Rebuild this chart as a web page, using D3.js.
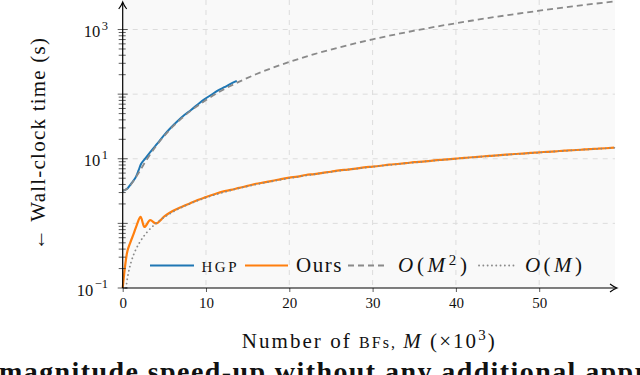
<!DOCTYPE html>
<html>
    <head>
        <title>Wall-clock time</title>
        <script src="https://d3js.org/d3.v7.min.js"></script>
    </head>
    <style>
        body { margin: 0; background: #fff; }
        svg { display: block; }
        text { font-family: "Liberation Serif", "DejaVu Serif", serif; fill: #111; }
    </style>
    <body>
        <div id="chart"></div>
        <script>

            // HGP timings (M in thousands, seconds)
            const hgpM = [0, 0.5, 1, 1.3, 1.6, 1.9, 2.2, 2.6, 3, 3.5, 4.2, 5, 5.8, 6.6, 7.4, 8.2, 9, 9.8, 10.6, 11.4, 12.2, 13, 13.7];
            const hgpT = [3.2, 3.4, 4.1, 4.6, 5.3, 6.6, 8.3, 9.7, 11.3, 13.6, 17.5, 23.5, 30.5, 38.5, 47.5, 57, 69, 83, 97, 113, 128, 145, 160];

            // our timings
            const oursM = [0, 0.25, 0.5, 0.9, 1.3, 1.7, 2.15, 2.6, 3.3, 4,
                5, 6, 7, 8, 9, 10, 11, 12, 13, 14, 15, 16, 17, 18, 19, 20, 21, 22, 23, 24, 25, 26, 27, 28, 29,
                30, 31, 32, 33, 34, 35, 36, 37, 38, 39, 40, 41, 42, 43, 44, 45, 46, 47, 48, 49, 50, 51, 52, 53, 54, 55, 56, 57, 58, 59];
            const oursT = [0.1, 0.2, 0.34, 0.5, 0.68, 0.95, 1.26, 0.88, 1.12, 1.0,
                1.28, 1.55, 1.78, 2.02, 2.3, 2.55, 2.82, 3.1, 3.3, 3.55, 3.8, 4.1, 4.3, 4.55, 4.85, 5.1, 5.3, 5.6, 5.8, 6.05, 6.3, 6.6, 6.8, 7.05, 7.35,
                7.55, 7.8, 8.1, 8.3, 8.55, 8.85, 9.05, 9.3, 9.6, 9.8, 10.05, 10.35, 10.55, 10.8, 11.1, 11.3, 11.55, 11.85, 12.05, 12.3, 12.6, 12.8, 13.05, 13.35, 13.55, 13.8, 14.1, 14.3, 14.55, 14.85];

            // O(M^2) reference curve
            const quadM = [0, 0.5, 1, 1.5, 2, 2.5, 3, 4, 5, 6, 7, 8, 10, 12, 14, 16, 18, 20, 23, 26, 30, 34, 38, 42, 46, 50, 54, 59.1];
            const quadT = [3.2, 3.4, 4.0, 5.0, 6.3, 8.1, 10.2, 15.7, 22.7, 31.3, 41.4, 53.1, 81, 116, 156, 203, 256, 315, 416, 530, 705, 905, 1130, 1380, 1655, 1955, 2280, 2730];

            // O(M) reference curve
            const linM = [0.4, 0.5, 0.6, 0.8, 1, 1.3, 1.6, 2, 2.5, 3, 4, 5, 6, 8, 10, 13, 16, 20, 25, 30, 40, 50, 59.1];
            const linT = [0.1, 0.125, 0.15, 0.2, 0.25, 0.325, 0.4, 0.5, 0.625, 0.75, 1.0, 1.25, 1.5, 2.0, 2.5, 3.25, 4.0, 5.0, 6.25, 7.5, 10, 12.5, 14.8];

            const xTicks = [0, 10, 20, 30, 40, 50];
            const yDecades = [-1, 0, 1, 2, 3];
            const yLabelled = [-1, 1, 3];

            const width = 640, height = 375;
            const pLeft = 122.7, pRight = 615, pTop = 0, pBottom = 288;

            const svg = d3.select("#chart").append("svg")
                .attr("width", width)
                .attr("height", height);

            const x = d3.scaleLinear().domain([0, 59.1]).range([pLeft, pRight]);
            const y = d3.scaleLog().domain([0.1, Math.pow(10, 3.457)]).range([pBottom, pTop]);

            // plot background
            svg.append("rect")
                .attr("x", pLeft).attr("y", pTop)
                .attr("width", pRight - pLeft).attr("height", pBottom - pTop)
                .attr("fill", "#f9f9f9");

            // grid
            const grid = svg.append("g")
                .attr("stroke", "#dcdcdc")
                .attr("stroke-width", 1)
                .attr("stroke-dasharray", "5,5");
            grid.selectAll(".gx").data(xTicks.slice(1)).enter().append("line")
                .attr("x1", d => x(d)).attr("x2", d => x(d))
                .attr("y1", pTop).attr("y2", pBottom);
            grid.selectAll(".gy").data(yDecades.slice(1)).enter().append("line")
                .attr("x1", pLeft).attr("x2", pRight)
                .attr("y1", d => y(Math.pow(10, d))).attr("y2", d => y(Math.pow(10, d)));

            // lines
            const line = d3.line()
                .x(d => x(d[0]))
                .y(d => y(d[1]))
                .curve(d3.curveMonotoneX);

            const plot = svg.append("g");
            plot.append("path")
                .datum(d3.zip(hgpM, hgpT))
                .attr("fill", "none")
                .attr("stroke", "#1f77b4")
                .attr("stroke-width", 2)
                .attr("d", line);
            plot.append("path")
                .datum(d3.zip(oursM, oursT))
                .attr("fill", "none")
                .attr("stroke", "#ff7f0e")
                .attr("stroke-width", 2.2)
                .attr("stroke-linejoin", "round")
                .attr("d", line);
            plot.append("path")
                .datum(d3.zip(quadM, quadT))
                .attr("fill", "none")
                .attr("stroke", "#8a8a8a")
                .attr("stroke-width", 1.8)
                .attr("stroke-dasharray", "6,4")
                .attr("d", line);
            plot.append("path")
                .datum(d3.zip(linM, linT))
                .attr("fill", "none")
                .attr("stroke", "#8a8a8a")
                .attr("stroke-width", 1.8)
                .attr("stroke-linecap", "round")
                .attr("stroke-dasharray", "0.1,4.2")
                .attr("d", line);

            // y ticks (major + minor), drawn across the axis
            const yt = svg.append("g").attr("stroke", "#333").attr("stroke-width", 0.8);
            const minor = [];
            yDecades.slice(0, -1).forEach(e => {
                for (let k = 2; k < 10; k++) minor.push(k * Math.pow(10, e));
            });
            yt.selectAll(".minor").data(minor).enter().append("line")
                .attr("x1", pLeft - 4).attr("x2", pLeft + 3)
                .attr("y1", d => y(d)).attr("y2", d => y(d));
            yt.selectAll(".major").data(yDecades).enter().append("line")
                .attr("x1", pLeft - 5).attr("x2", pLeft + 5)
                .attr("y1", d => y(Math.pow(10, d))).attr("y2", d => y(Math.pow(10, d)));

            const ylab = svg.selectAll(".ylab").data(yLabelled).enter().append("text")
                .attr("x", 108)
                .attr("y", d => y(Math.pow(10, d)) + 7.5)
                .attr("text-anchor", "end")
                .attr("font-size", 16.5);
            ylab.append("tspan").text("10");
            ylab.append("tspan").attr("dx", 1.5).attr("dy", -7.5).attr("font-size", 12.5)
                .text(d => d < 0 ? "\u22121" : d);

            // x axis
            const xAxis = svg.append("g")
                .attr("transform", `translate(0,${pBottom})`)
                .call(d3.axisBottom(x).tickValues(xTicks).tickSize(4).tickPadding(5));
            xAxis.select(".domain").remove();
            xAxis.selectAll("line").attr("stroke", "#333").attr("stroke-width", 0.8);
            xAxis.selectAll("text")
                .attr("font-family", "Liberation Serif")
                .attr("font-size", 15)
                .attr("fill", "#111");

            // axis lines with arrows
            svg.append("line")
                .attr("x1", pLeft).attr("x2", 616)
                .attr("y1", pBottom).attr("y2", pBottom)
                .attr("stroke", "#000").attr("stroke-width", 1.2);
            svg.append("line")
                .attr("x1", pLeft).attr("x2", pLeft)
                .attr("y1", pBottom).attr("y2", 3)
                .attr("stroke", "#000").attr("stroke-width", 1.2);
            svg.append("path")
                .attr("d", `M${pLeft - 4},9 Q${pLeft - 1},5 ${pLeft},2 Q${pLeft + 1},5 ${pLeft + 4},9`)
                .attr("fill", "none").attr("stroke", "#000").attr("stroke-width", 1.1);
            svg.append("path")
                .attr("d", `M610,${pBottom - 4} Q614,${pBottom - 1} 617,${pBottom} Q614,${pBottom + 1} 610,${pBottom + 4}`)
                .attr("fill", "none").attr("stroke", "#000").attr("stroke-width", 1.1);

            // legend
            const legendY = 265.5;
            const legend = [
                { x0: 150, x1: 194, stroke: "#1f77b4", dash: null, w: 2, cap: "butt" },
                { x0: 245, x1: 288, stroke: "#ff7f0e", dash: null, w: 2.2, cap: "butt" },
                { x0: 348, x1: 386, stroke: "#8a8a8a", dash: "6,4", w: 1.8, cap: "butt" },
                { x0: 479, x1: 515, stroke: "#8a8a8a", dash: "0.1,4.2", w: 1.8, cap: "round" }
            ];
            svg.selectAll(".leg").data(legend).enter().append("line")
                .attr("x1", d => d.x0).attr("x2", d => d.x1)
                .attr("y1", legendY).attr("y2", legendY)
                .attr("stroke", d => d.stroke)
                .attr("stroke-width", d => d.w)
                .attr("stroke-linecap", d => d.cap)
                .attr("stroke-dasharray", d => d.dash);

            svg.append("text").attr("x", 201.5).attr("y", 271.5)
                .attr("font-size", 15).attr("textLength", 35).text("HGP");
            svg.append("text").attr("x", 296).attr("y", 272)
                .attr("font-size", 21).attr("textLength", 45.5).text("Ours");
            const q = svg.append("text").attr("x", 398).attr("y", 272)
                .attr("font-size", 21).attr("textLength", 69);
            q.append("tspan").attr("font-style", "italic").text("O");
            q.append("tspan").text("(");
            q.append("tspan").attr("font-style", "italic").text("M");
            q.append("tspan").attr("dy", -7).attr("font-size", 15).text("2");
            q.append("tspan").attr("dy", 7).text(")");
            const l = svg.append("text").attr("x", 525).attr("y", 272)
                .attr("font-size", 21).attr("textLength", 57);
            l.append("tspan").attr("font-style", "italic").text("O");
            l.append("tspan").text("(");
            l.append("tspan").attr("font-style", "italic").text("M");
            l.append("tspan").text(")");

            // axis titles
            const xt = svg.append("text").attr("x", 241.7).attr("y", 348)
                .attr("font-size", 21).attr("textLength", 253);
            xt.append("tspan").text("Number of ");
            xt.append("tspan").attr("font-size", 16).text("BF");
            xt.append("tspan").attr("font-size", 16).text("s, ");
            xt.append("tspan").attr("font-style", "italic").text("M");
            xt.append("tspan").text(" (\u00d710");
            xt.append("tspan").attr("dy", -8).attr("font-size", 15).text("3");
            xt.append("tspan").attr("dy", 8).text(")");

            svg.append("text")
                .attr("transform", "translate(44.5,250) rotate(-90)")
                .attr("font-size", 21)
                .attr("textLength", 212)
                .text("\u2190 Wall-clock time (s)");

            // caption text from the page, cut off by the frame
            svg.append("text").attr("x", -1).attr("y", 381)
                .attr("font-size", 28).attr("font-weight", "bold")
                .attr("textLength", 648)
                .text("magnitude speed-up without any additional appr");

        </script>
    </body>
</html>
